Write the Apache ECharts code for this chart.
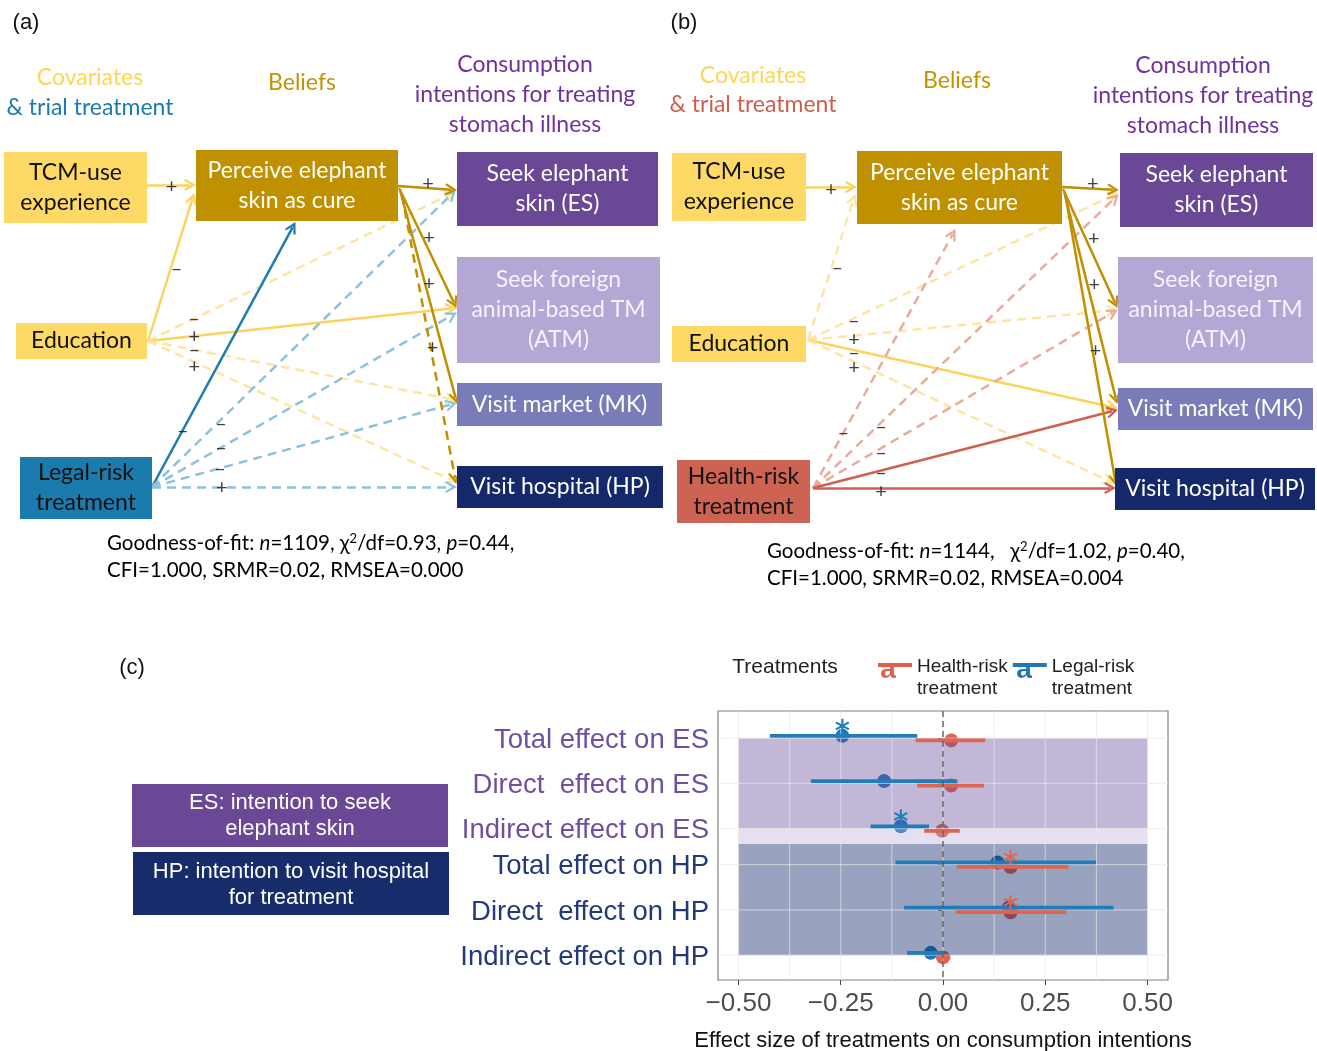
<!DOCTYPE html>
<html>
<head>
<meta charset="utf-8">
<title>Elephant skin: path models and treatment effects</title>
<script src="https://cdn.jsdelivr.net/npm/echarts@6/dist/echarts.min.js"></script>
<style>
  html, body { margin: 0; padding: 0; background: #fff; }
  #main { width: 1317px; height: 1051px; }
</style>
</head>
<body>
<div id="main"></div>
<script>
// ---------------- data ----------------
// path model (a) legal-risk trial, (b) health-risk trial
const nodeIds = ['TCM', 'EDU', 'TRT', 'PER', 'ES', 'ATM', 'MK', 'HP'];
const nodeNamesA = ['TCM-use\nexperience', 'Education', 'Legal-risk\ntreatment', 'Perceive elephant\nskin as cure',
  'Seek elephant\nskin (ES)', 'Seek foreign\nanimal-based TM\n(ATM)', 'Visit market (MK)', 'Visit hospital (HP)'];
const nodeNamesB = ['TCM-use\nexperience', 'Education', 'Health-risk\ntreatment', 'Perceive elephant\nskin as cure',
  'Seek elephant\nskin (ES)', 'Seek foreign\nanimal-based TM\n(ATM)', 'Visit market (MK)', 'Visit hospital (HP)'];

// [from, to, sign, significant] -- significant paths are solid, others dashed
const pathsA = [
  ['TCM', 'PER', '+', 1], ['EDU', 'PER', '-', 1], ['EDU', 'ES', '-', 0], ['EDU', 'ATM', '+', 1],
  ['EDU', 'MK', '-', 0], ['EDU', 'HP', '+', 0],
  ['TRT', 'PER', '-', 1], ['TRT', 'ES', '-', 0], ['TRT', 'ATM', '-', 0], ['TRT', 'MK', '-', 0], ['TRT', 'HP', '+', 0],
  ['PER', 'ES', '+', 1], ['PER', 'ATM', '+', 1], ['PER', 'MK', '+', 1], ['PER', 'HP', '+', 0]
];
const pathsB = [
  ['TCM', 'PER', '+', 1], ['EDU', 'PER', '-', 0], ['EDU', 'ES', '-', 0], ['EDU', 'ATM', '+', 0],
  ['EDU', 'MK', '-', 1], ['EDU', 'HP', '+', 0],
  ['TRT', 'PER', '-', 0], ['TRT', 'ES', '-', 0], ['TRT', 'ATM', '-', 0], ['TRT', 'MK', '-', 1], ['TRT', 'HP', '+', 1],
  ['PER', 'ES', '+', 1], ['PER', 'ATM', '+', 1], ['PER', 'MK', '+', 1], ['PER', 'HP', '+', 1]
];
const fitA = ['1109', '0.93', '0.44', '1.000', '0.02', '0.000']; // n, chi2/df, p, CFI, SRMR, RMSEA
const fitB = ['1144', '1.02', '0.40', '1.000', '0.02', '0.004'];

// panel (c): effect sizes with intervals
const effectLabels = ['Total effect on ES', 'Direct  effect on ES', 'Indirect effect on ES',
  'Total effect on HP', 'Direct  effect on HP', 'Indirect effect on HP'];
const treatmentNames = ['Health-risk treatment', 'Legal-risk treatment'];
const legalEst = [-0.246, -0.144, -0.103, 0.133, 0.161, -0.030];
const legalLo = [-0.423, -0.323, -0.177, -0.116, -0.095, -0.088];
const legalHi = [-0.063, 0.035, -0.034, 0.374, 0.417, 0.000];
const legalSig = [1, 0, 1, 0, 0, 0];
const healthEst = [0.020, 0.020, -0.002, 0.165, 0.165, 0.000];
const healthLo = [-0.067, -0.063, -0.046, 0.034, 0.031, -0.015];
const healthHi = [0.103, 0.100, 0.041, 0.307, 0.301, 0.018];
const healthSig = [0, 0, 0, 1, 1, 0];
const xTicks = [-0.5, -0.25, 0, 0.25, 0.5];
const xMinor = [-0.375, -0.125, 0.125, 0.375];

// ---------------- layout / style ----------------
const effectPos = [6, 5, 4, 3.2, 2.2, 1.2];
const dodge = 0.05;
// band rects: [x0, x1, y0, y1, colour index]
const bandSpans = [[-0.5, 0.5, 4, 6, 0], [-0.5, 0.5, 3.66, 4, 1], [-0.5, 0.5, 1.2, 3.66, 2]];
const bandColors = ['rgba(106,74,154,0.4)', 'rgba(180,167,214,0.35)', 'rgba(22,43,106,0.44)'];

const boxLayout = {
  a: { TCM: [4, 152, 143, 71], EDU: [16, 323, 131, 36], TRT: [20, 457, 132, 62], PER: [196, 150, 202, 71],
       ES: [457, 152, 201, 74], ATM: [457, 257, 203, 106], MK: [457, 383, 205, 43], HP: [457, 466, 206, 42] },
  b: { TCM: [672, 153, 134, 68], EDU: [672, 326, 134, 36], TRT: [677, 460, 133, 63], PER: [857, 151, 205, 73],
       ES: [1120, 153, 193, 74], ATM: [1118, 257, 195, 106], MK: [1118, 388, 195, 42], HP: [1115, 468, 200, 42] }
};
const nodeFill = { TCM: '#ffd966', EDU: '#ffd966', PER: '#bf9000', ES: '#6a4896', ATM: '#b4a7d6', MK: '#7a7cb9', HP: '#15296a' };
const trtFill = { a: '#1c7bad', b: '#cd6352' };
const nodeInk = { TCM: '#111', EDU: '#111', TRT: '#111', PER: '#fff', ES: '#fff', ATM: '#f6f2fc', MK: '#fff', HP: '#fff' };

// edge geometry: [x0, y0, x1, y1, label t, label dx, label dy]
const edgeGeom = {
  a: {
    'TCM>PER': [146, 185, 195, 185, 0.52, 0, 2],
    'EDU>PER': [148, 341, 194, 194, 0.49, 6, 0],
    'EDU>ES': [148, 341, 455, 192, 0.15, 0, 0],
    'EDU>ATM': [148, 341, 456, 308, 0.15, 0, 0],
    'EDU>MK': [148, 341, 456, 400, 0.15, 0, 0],
    'EDU>HP': [148, 341, 456, 482, 0.15, 0, 4],
    'TRT>PER': [152, 487, 295, 223, 0.215, 0, 0],
    'TRT>ES': [152, 487, 455, 191, 0.228, 0, 4],
    'TRT>ATM': [152, 487, 456, 313, 0.227, 0, 0],
    'TRT>MK': [152, 487, 456, 403, 0.224, 0, 0],
    'TRT>HP': [152, 487, 456, 487, 0.23, 0, 1],
    'PER>ES': [398, 186, 456, 190, 0.52, 0, -5],
    'PER>ATM': [399, 188, 456, 307, 0.42, 6, 0],
    'PER>MK': [400, 190, 457, 403, 0.44, 4, 0],
    'PER>HP': [402, 195, 456, 483, 0.53, 2, 0]
  },
  b: {
    'TCM>PER': [806, 187, 856, 187, 0.5, 0, 3],
    'EDU>PER': [808, 340, 855, 195, 0.497, 6, 0],
    'EDU>ES': [808, 340, 1118, 193, 0.148, 0, 2],
    'EDU>ATM': [808, 340, 1117, 310, 0.149, 0, 4],
    'EDU>MK': [808, 340, 1117, 408, 0.149, 0, 2],
    'EDU>HP': [808, 340, 1113, 483, 0.151, 0, 6],
    'TRT>PER': [813, 488, 955, 230, 0.213, 0, 0],
    'TRT>ES': [813, 488, 1118, 195, 0.223, 0, 4],
    'TRT>ATM': [813, 488, 1117, 310, 0.224, 0, 4],
    'TRT>MK': [813, 488, 1117, 410, 0.224, 0, 2],
    'TRT>HP': [813, 488, 1115, 488, 0.225, 0, 4],
    'PER>ES': [1062, 187, 1118, 190, 0.55, 0, -5],
    'PER>ATM': [1063, 189, 1117, 307, 0.42, 8, 0],
    'PER>MK': [1064, 191, 1117, 403, 0.44, 7, 0],
    'PER>HP': [1065, 193, 1116, 485, 0.54, 3, 0]
  }
};
// [dashed colour, solid colour]
const edgeColors = {
  cov: ['#fde5a2', '#fdd35f'],
  legal: ['#8cc3dc', '#1f7cb0'],
  health: ['#eaab9f', '#cf604f'],
  belief: ['#c09000', '#c09000']
};
const arrowPath = 'path://M5,0 L10,8 L8.6,9 L5,3.6 L1.4,9 L0,8 Z';
const boxFont = 'Lato';
const plotFont = 'Liberation Sans';

// six-armed asterisk as a symbol path
function starPath() {
  let d = '';
  [90, 30, 150].forEach(deg => {
    const a = deg * Math.PI / 180, ux = Math.cos(a), uy = Math.sin(a), w = 1.4;
    const pts = [[10 + 10 * ux - w * uy, 10 + 10 * uy + w * ux], [10 + 10 * ux + w * uy, 10 + 10 * uy - w * ux],
      [10 - 10 * ux + w * uy, 10 - 10 * uy - w * ux], [10 - 10 * ux - w * uy, 10 - 10 * uy + w * ux]];
    d += 'M' + pts.map(p => p[0].toFixed(2) + ',' + p[1].toFixed(2)).join(' L') + ' Z ';
  });
  return 'path://' + d;
}

const panels = [
  { key: 'a', names: nodeNamesA, paths: pathsA, trt: 'legal' },
  { key: 'b', names: nodeNamesB, paths: pathsB, trt: 'health' }
];

function boxData(p) {
  return nodeIds.map((id, i) => {
    const [x, y, w, h] = boxLayout[p.key][id];
    return {
      name: p.names[i],
      value: [x + w / 2, y + h / 2],
      symbolSize: [w, h],
      itemStyle: { color: id === 'TRT' ? trtFill[p.key] : nodeFill[id], opacity: 1 },
      label: { color: nodeInk[id] }
    };
  });
}

function edgeData(p) {
  return p.paths.map(([from, to, sign, sig]) => {
    const [x0, y0, x1, y1] = edgeGeom[p.key][from + '>' + to];
    const group = from === 'PER' ? 'belief' : from === 'TRT' ? p.trt : 'cov';
    const len = Math.hypot(x1 - x0, y1 - y0);
    const k = (len - 5) / len; // leave room for the arrow head
    return {
      coords: [[x0, y0], [x0 + (x1 - x0) * k, y0 + (y1 - y0) * k]],
      lineStyle: { color: edgeColors[group][sig], type: sig ? 'solid' : [9, 6] }
    };
  });
}

function signData(p) {
  return p.paths.map(([from, to, sign]) => {
    const [x0, y0, x1, y1, t, dx, dy] = edgeGeom[p.key][from + '>' + to];
    return {
      value: [x0 + (x1 - x0) * t + dx, y0 + (y1 - y0) * t + dy],
      label: { formatter: sign === '-' ? '\u2013' : '+' }
    };
  });
}

function fitText(f, gap) {
  return [
    '{t|Goodness-of-fit: }{i|n}{t|=' + f[0] + ',' + gap + 'χ}{s|2}{t|/df=' + f[1] + ', }{i|p}{t|=' + f[2] + ',}',
    '{t|CFI=' + f[3] + ', SRMR=' + f[4] + ', RMSEA=' + f[5] + '}'
  ].join('\n');
}
const fitRich = {
  t: { fontFamily: boxFont, fontSize: 20.5, color: '#222', lineHeight: 27 },
  i: { fontFamily: boxFont, fontSize: 20.5, fontStyle: 'italic', color: '#222', lineHeight: 27 },
  s: { fontFamily: boxFont, fontSize: 13, color: '#222', padding: [0, 0, 10, 0] }
};

function headerTexts(cx, ys, trtColor) {
  const f = '23px ' + boxFont;
  return [
    { type: 'text', x: cx[0], y: ys[0], style: { text: 'Covariates', fill: '#ffd555', font: f, align: 'center', verticalAlign: 'middle' } },
    { type: 'text', x: cx[0], y: ys[1], style: { text: '& trial treatment', fill: trtColor, font: f, align: 'center', verticalAlign: 'middle' } },
    { type: 'text', x: cx[1], y: ys[2], style: { text: 'Beliefs', fill: '#c49400', font: f, align: 'center', verticalAlign: 'middle' } },
    { type: 'text', x: cx[2], y: ys[3], style: { text: 'Consumption\nintentions for treating\nstomach illness', fill: '#7030a0', font: f, lineHeight: 30, align: 'center', verticalAlign: 'middle' } }
  ];
}

const series = [];
panels.forEach(p => {
  series.push({
    type: 'lines', coordinateSystem: 'cartesian2d', xAxisIndex: 0, yAxisIndex: 0, z: 2, silent: true,
    symbol: ['none', arrowPath], symbolSize: 12,
    lineStyle: { width: 2.5, opacity: 1 },
    data: edgeData(p)
  });
  series.push({
    type: 'scatter', xAxisIndex: 0, yAxisIndex: 0, z: 3, silent: true, clip: false,
    symbol: 'rect',
    label: { show: true, position: 'inside', formatter: '{b}', fontFamily: boxFont, fontSize: 23, lineHeight: 30 },
    data: boxData(p)
  });
  series.push({
    type: 'scatter', xAxisIndex: 0, yAxisIndex: 0, z: 4, silent: true, clip: false,
    symbolSize: 1, itemStyle: { color: 'rgba(0,0,0,0)' },
    label: { show: true, position: 'inside', fontFamily: boxFont, fontSize: 20, color: '#111' },
    data: signData(p)
  });
});

// ---- panel (c) ----
series.push({
  name: treatmentNames[1], type: 'scatter', xAxisIndex: 1, yAxisIndex: 1, z: 2, silent: true,
  symbolSize: 14, itemStyle: { color: '#1f78b4', opacity: 1 },
  data: legalEst.map((v, i) => [v, effectPos[i] + dodge])
});
series.push({
  name: treatmentNames[0], type: 'scatter', xAxisIndex: 1, yAxisIndex: 1, z: 2, silent: true,
  symbolSize: 14, itemStyle: { color: '#e0614b', opacity: 1 },
  data: healthEst.map((v, i) => [v, effectPos[i] - dodge])
});
series.push({
  type: 'custom', xAxisIndex: 1, yAxisIndex: 1, z: 3, silent: true,
  data: bandSpans,
  renderItem: (params, api) => {
    const a = api.coord([api.value(0), api.value(3)]);
    const b = api.coord([api.value(1), api.value(2)]);
    return { type: 'rect', shape: { x: a[0], y: a[1], width: b[0] - a[0], height: b[1] - a[1] },
      style: { fill: bandColors[api.value(4)] } };
  }
});
series.push({
  type: 'custom', xAxisIndex: 1, yAxisIndex: 1, z: 4, silent: true,
  data: xTicks.concat(xMinor).map(v => [0, v]).concat(effectPos.map(v => [1, v])),
  renderItem: (params, api) => {
    const cs = params.coordSys;
    const isV = api.value(0) === 0;
    const pt = api.coord(isV ? [api.value(1), 3] : [0, api.value(1)]);
    const shape = isV ? { x1: pt[0], y1: cs.y, x2: pt[0], y2: cs.y + cs.height }
                      : { x1: cs.x, y1: pt[1], x2: cs.x + cs.width, y2: pt[1] };
    return { type: 'line', shape, style: { stroke: 'rgba(232,232,232,0.6)', lineWidth: 1.2 } };
  }
});
function barSeries(lo, hi, off, color) {
  return {
    type: 'custom', xAxisIndex: 1, yAxisIndex: 1, z: 5, silent: true,
    data: lo.map((l, i) => [l, hi[i], effectPos[i] + off]),
    renderItem: (params, api) => {
      const a = api.coord([api.value(0), api.value(2)]);
      const b = api.coord([api.value(1), api.value(2)]);
      return { type: 'line', shape: { x1: a[0], y1: a[1], x2: b[0], y2: b[1] }, style: { stroke: color, lineWidth: 3.8 } };
    }
  };
}
series.push(barSeries(legalLo, legalHi, dodge, '#1f7dbd'));
series.push(barSeries(healthLo, healthHi, -dodge, '#e0654f'));
function starSeries(est, sig, off, color) {
  return {
    type: 'scatter', xAxisIndex: 1, yAxisIndex: 1, z: 6, silent: true,
    symbol: starPath(), symbolSize: 14, symbolOffset: [0, -10],
    itemStyle: { color, opacity: 1 },
    data: est.map((v, i) => [v, effectPos[i] + off]).filter((d, i) => sig[i])
  };
}
series.push(starSeries(legalEst, legalSig, dodge, '#1f7dbd'));
series.push(starSeries(healthEst, healthSig, -dodge, '#e0654f'));
series.push({
  type: 'custom', xAxisIndex: 1, yAxisIndex: 1, z: 7, silent: true,
  data: [[0]],
  renderItem: (params, api) => {
    const cs = params.coordSys;
    const x = api.coord([api.value(0), 3])[0];
    return { type: 'line', shape: { x1: x, y1: cs.y, x2: x, y2: cs.y + cs.height },
      style: { stroke: '#555', lineWidth: 1.3, lineDash: [6, 4] } };
  }
});

const legendIcon = 'path://M0,7 H34 V11 H0 Z M0,0 H0.01 V0.01 H0 Z M33.99,43.99 H34 V44 H33.99 Z';

const option = {
  backgroundColor: '#fff',
  animation: false,
  grid: [
    { left: 0, top: 0, width: 1317, height: 1051, outerBoundsMode: 'none' },
    { left: 718, top: 711, width: 450, height: 269, show: true, borderColor: '#808080', borderWidth: 1.2,
      backgroundColor: '#fff', outerBoundsMode: 'none', containLabel: false }
  ],
  xAxis: [
    { gridIndex: 0, type: 'value', min: 0, max: 1317, show: false },
    { gridIndex: 1, type: 'value', min: -0.55, max: 0.55,
      axisLine: { show: false },
      axisTick: { show: true, customValues: xTicks, length: 5, lineStyle: { color: '#444' } },
      axisLabel: { customValues: xTicks, formatter: v => (v < 0 ? '\u2212' : '') + Math.abs(v).toFixed(2),
        fontFamily: plotFont, fontSize: 26, color: '#4d4d4d', margin: 11 },
      splitLine: { show: false },
      name: 'Effect size of treatments on consumption intentions', nameLocation: 'middle', nameGap: 50,
      nameTextStyle: { fontFamily: plotFont, fontSize: 22, color: '#111' } }
  ],
  yAxis: [
    { gridIndex: 0, type: 'value', min: 0, max: 1051, inverse: true, show: false },
    { gridIndex: 1, type: 'value', min: 0.65, max: 6.6,
      axisLine: { show: false },
      axisTick: { show: true, customValues: effectPos, length: 5, lineStyle: { color: '#444' } },
      axisLabel: { customValues: effectPos, margin: 9,
        formatter: v => {
          const i = effectPos.findIndex(q => Math.abs(q - v) < 1e-6);
          return i < 0 ? '' : '{' + (i < 3 ? 'es' : 'hp') + '|' + effectLabels[i] + '}';
        },
        rich: {
          es: { fontFamily: plotFont, fontSize: 27.5, color: '#6e4fa0', padding: [4, 0, 0, 0] },
          hp: { fontFamily: plotFont, fontSize: 27.5, color: '#223a7c', padding: [4, 0, 0, 0] }
        } },
      splitLine: { show: false } }
  ],
  legend: {
    data: treatmentNames, left: 873, top: 651, itemWidth: 34, itemHeight: 44, itemGap: 5,
    selectedMode: false, icon: legendIcon,
    formatter: n => n.replace(' ', '\n'),
    textStyle: { fontFamily: plotFont, fontSize: 19, lineHeight: 22, color: '#222' }
  },
  graphic: [
    { type: 'text', x: 26, y: 23, style: { text: '(a)', font: '22px ' + plotFont, fill: '#111', align: 'center', verticalAlign: 'middle' } },
    { type: 'text', x: 684, y: 23, style: { text: '(b)', font: '22px ' + plotFont, fill: '#111', align: 'center', verticalAlign: 'middle' } },
    { type: 'text', x: 132, y: 668, style: { text: '(c)', font: '22px ' + plotFont, fill: '#111', align: 'center', verticalAlign: 'middle' } },
    ...headerTexts([90, 302, 525], [78, 108, 83, 95], '#1c7bad'),
    ...headerTexts([753, 957, 1203], [76, 105, 81, 96], '#cf5f4d'),
    { type: 'text', x: 107, y: 557, style: { text: fitText(fitA, ' '), rich: fitRich, verticalAlign: 'middle' } },
    { type: 'text', x: 767, y: 565, style: { text: fitText(fitB, '   '), rich: fitRich, verticalAlign: 'middle' } },
    { type: 'text', x: 785, y: 667, style: { text: 'Treatments', font: '21px ' + plotFont, fill: '#222', align: 'center', verticalAlign: 'middle' } },
    { type: 'text', x: 888, y: 670, z: 10, style: { text: 'a', font: 'bold 28px ' + plotFont, fill: '#e0614b', align: 'center', verticalAlign: 'middle' } },
    { type: 'text', x: 1024, y: 670, z: 10, style: { text: 'a', font: 'bold 28px ' + plotFont, fill: '#1f78b4', align: 'center', verticalAlign: 'middle' } },
    { type: 'rect', shape: { x: 132, y: 784, width: 316, height: 63 }, style: { fill: '#6a4896' } },
    { type: 'text', x: 290, y: 816, style: { text: 'ES: intention to seek\nelephant skin', font: '22px ' + plotFont, lineHeight: 26, fill: '#fff', align: 'center', verticalAlign: 'middle' } },
    { type: 'rect', shape: { x: 133, y: 852, width: 316, height: 63 }, style: { fill: '#172d6b' } },
    { type: 'text', x: 291, y: 885, style: { text: 'HP: intention to visit hospital\nfor treatment', font: '22px ' + plotFont, lineHeight: 26, fill: '#fff', align: 'center', verticalAlign: 'middle' } }
  ],
  series
};

const chart = echarts.init(document.getElementById('main'));
chart.setOption(option);
</script>
</body>
</html>
